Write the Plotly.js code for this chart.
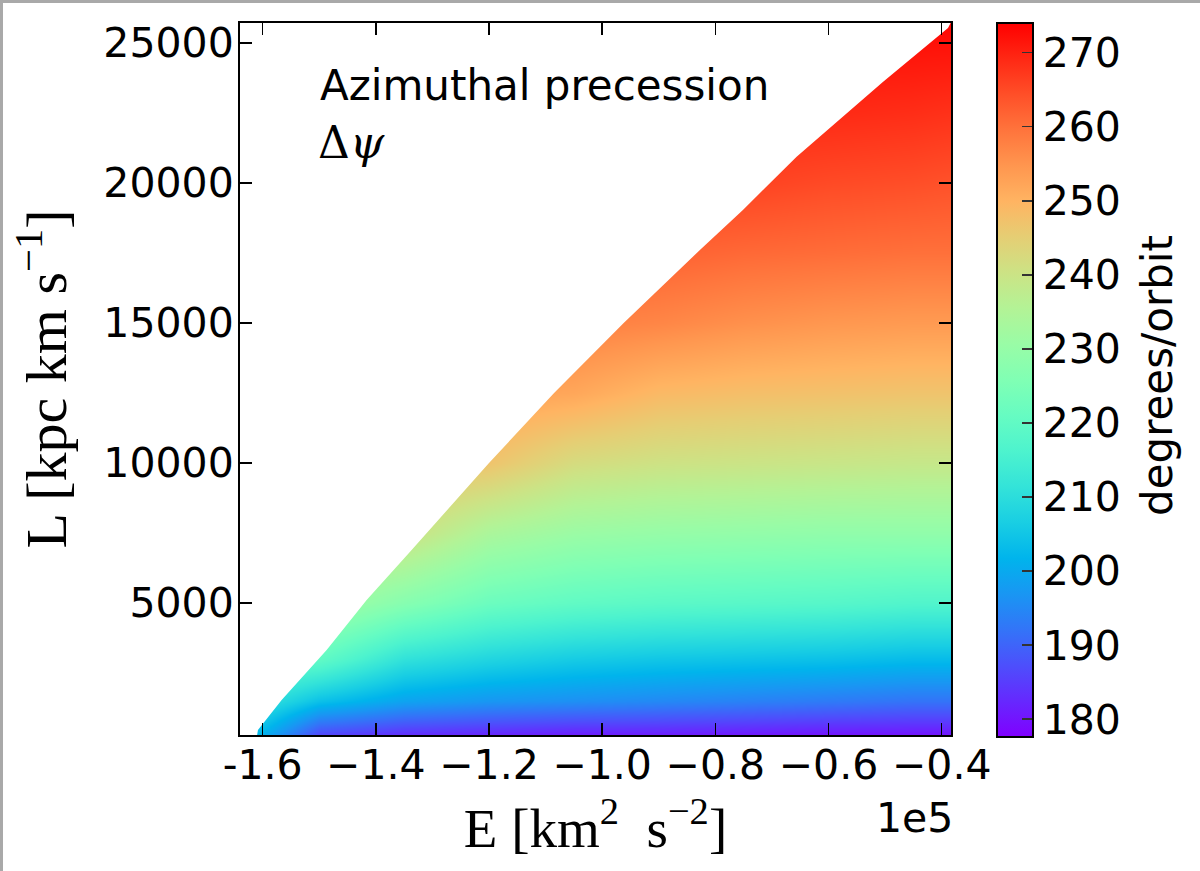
<!DOCTYPE html>
<html><head><meta charset="utf-8">
<script src="https://cdn.plot.ly/plotly-3.0.1.min.js"></script>
<style>
html,body{margin:0;padding:0;background:#fff;}
#wrap{position:relative;width:1200px;height:871px;overflow:hidden;}
#chart{width:1200px;height:871px;}
.gt{position:absolute;left:0;top:0;width:1200px;height:3px;background:#a9a9a9;}
.gl{position:absolute;left:0;top:0;width:3px;height:871px;background:#a9a9a9;}
</style></head><body>
<div id="wrap"><div id="chart"></div><div class="gt"></div><div class="gl"></div></div>
<script>
// Energy grid (units of 1e5 km^2 s^-2)
const energy = [-1.64, -1.5, -1.35, -1.2, -1.05, -0.9, -0.75, -0.6, -0.45, -0.38];
// Angular momentum grid (kpc km/s)
const angMom = [286, 1500, 3000, 5000, 7500, 10000, 12500, 15000, 17500, 20000, 22500, 25714];
// Azimuthal precession (degrees/orbit), rows = angMom, cols = energy
const precession = [
  [207, 186, 183, 182, 181, 181, 180.5, 180, 180, 180],
  [214, 204, 199, 197, 196, 195, 194, 193, 192, 192],
  [222, 220, 211, 208, 206, 205, 204.5, 204, 203, 203],
  [233, 233, 227, 222, 220, 219, 218.5, 218, 217, 217],
  [241, 241, 241, 234, 231, 230, 229.5, 229, 229, 229],
  [248, 248, 248, 247, 242, 240.5, 240, 239.5, 239, 239],
  [253, 253, 253, 253, 252, 249, 248, 247.5, 247, 247],
  [258, 258, 258, 258, 258, 257, 255.5, 254.5, 254, 254],
  [262, 262, 262, 262, 262, 262, 261, 260.5, 260, 260],
  [266, 266, 266, 266, 266, 266, 266, 265, 264.5, 264],
  [269, 269, 269, 269, 269, 269, 269, 269, 268.5, 268],
  [273, 273, 273, 273, 273, 273, 273, 273, 273, 273]
];
// Circular-orbit boundary (max L at given E)
const edgeEnergy = [-1.612, -1.6083, -1.5664, -1.4869, -1.4162, -1.3367, -1.20, -1.085, -0.962, -0.8273, -0.7513, -0.6564, -0.571, -0.504, -0.3889, -0.372];
const edgeL      = [0, 464, 1536, 3321, 5107, 6893, 10000, 12500, 15000, 17607, 19036, 20939, 22429, 23607, 25536, 26200];

const xTickVals = [-1.6, -1.4, -1.2, -1.0, -0.8, -0.6, -0.4];
const xTickText = ['-1.6', '\u22121.4', '\u22121.2', '\u22121.0', '\u22120.8', '\u22120.6', '\u22120.4'];
const yTickVals = [5000, 10000, 15000, 20000, 25000];
const yTickText = ['5000', '10000', '15000', '20000', '25000'];
const cTickVals = [180, 190, 200, 210, 220, 230, 240, 250, 260, 270];

// matplotlib "rainbow" colormap
const rainbow = [];
const stops = [0,0.05,0.1,0.15,0.2,0.25,0.3,0.35,0.4,0.45,0.5,0.55,0.6,0.65,0.7,0.75,0.8,0.85,0.9,0.95,1];
stops.forEach(function(t){
  const c = v => Math.round(255*Math.max(0, Math.min(1, v)));
  const r = c(Math.abs(2*t - 0.5)), g = c(Math.sin(Math.PI*t)), b = c(Math.cos(Math.PI*t/2));
  rainbow.push([t, 'rgb('+r+','+g+','+b+')']);
});

const xr = [-1.640, -0.3836];
const yr = [286, 25714];

const heat = {
  type: 'heatmap', x: energy, y: angMom, z: precession,
  zsmooth: 'best', colorscale: rainbow, zmin: 177.6, zmax: 274.0,
  hoverinfo: 'skip',
  colorbar: {
    thickness: 36, thicknessmode: 'pixels',
    len: 714, lenmode: 'pixels',
    x: 1.0647, xanchor: 'left', xref: 'paper',
    y: 1.0, yanchor: 'top', yref: 'paper',
    xpad: 0, ypad: 0,
    outlinewidth: 2, outlinecolor: '#000',
    ticks: 'inside', ticklen: 12, tickwidth: 1.5, tickcolor: '#333',
    tickvals: cTickVals, ticktext: cTickVals.map(String),
    tickfont: {family: 'DejaVu Sans', size: 41, color: '#000'},
    ticklabelposition: 'outside'
  }
};

const maskE = [xr[0]-0.1].concat(edgeEnergy, [xr[0]-0.1]);
const maskL = [-500].concat(edgeL, [26200]);
const mask = {
  type: 'scatter', mode: 'lines', x: maskE, y: maskL,
  fill: 'toself', fillcolor: '#ffffff', line: {width: 0, color: '#ffffff'},
  hoverinfo: 'skip', showlegend: false
};

const axisCommon = {
  showline: true, linecolor: '#000', linewidth: 2, mirror: 'ticks',
  ticks: 'inside', ticklen: 12, tickwidth: 1.5, tickcolor: '#000',
  showgrid: false, zeroline: false,
  tickfont: {family: 'DejaVu Sans', size: 41, color: '#000'}
};

const layout = {
  width: 1200, height: 871,
  margin: {l: 240, r: 249, t: 23, b: 136},
  paper_bgcolor: '#fff', plot_bgcolor: '#fff',
  showlegend: false,
  font: {family: 'DejaVu Sans', color: '#000'},
  xaxis: Object.assign({}, axisCommon, {
    range: xr, tickvals: xTickVals, ticktext: xTickText,
    ticklabelstandoff: -7,
    title: {text: 'E [km<sup>2</sup>  s<sup>\u22122</sup>]', font: {family: 'Liberation Serif', size: 55, color: '#000'}, standoff: 20}
  }),
  yaxis: Object.assign({}, axisCommon, {
    range: yr, tickvals: yTickVals, ticktext: yTickText,
    ticklabelstandoff: -4,
    title: {text: 'L [kpc km s<sup>\u22121</sup>]', font: {family: 'Liberation Serif', size: 58, color: '#000'}, standoff: 18}
  }),
  annotations: [
    {xref: 'paper', yref: 'paper', x: (318-240)/711, y: (735-86)/712, xanchor: 'left', yanchor: 'middle',
     text: 'Azimuthal precession', showarrow: false, font: {family: 'DejaVu Sans', size: 42, color: '#000'}},
    {xref: 'paper', yref: 'paper', x: (316-240)/711, y: (735-143)/712, xanchor: 'left', yanchor: 'middle',
     text: '\u0394<i>\u03c8</i>', showarrow: false, font: {family: 'DejaVu Serif', size: 44, color: '#000'}},
    {xref: 'paper', yref: 'paper', x: (955-240)/711, y: (735-818)/712, xanchor: 'right', yanchor: 'middle',
     text: '1e5', showarrow: false, font: {family: 'DejaVu Sans', size: 41, color: '#000'}},
    {xref: 'paper', yref: 'paper', x: (1157-240)/711, y: (735-376)/712, xanchor: 'center', yanchor: 'middle',
     text: 'degrees/orbit', textangle: -90, showarrow: false, font: {family: 'DejaVu Sans', size: 42, color: '#000'}}
  ]
};

Plotly.newPlot('chart', [heat, mask], layout, {displayModeBar: false, staticPlot: true});
</script>
</body></html>
